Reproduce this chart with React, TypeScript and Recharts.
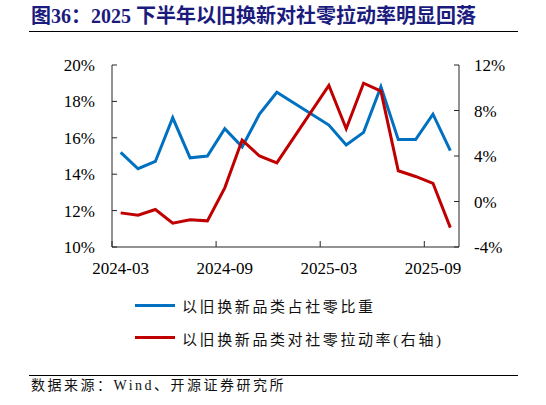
import React from 'react';
import { ComposedChart, Line, XAxis, YAxis } from 'recharts';

const months = [
  '2024-03', '2024-04', '2024-05', '2024-06', '2024-07', '2024-08', '2024-09',
  '2024-10', '2024-11', '2024-12', '2025-01', '2025-02', '2025-03', '2025-04',
  '2025-05', '2025-06', '2025-07', '2025-08', '2025-09', '2025-10',
];
// 以旧换新品类占社零比重 (%), left axis
const shareOfRetail: (number | null)[] = [
  15.2, 14.3, 14.7, 17.1, 14.9, 15.0, 16.5, 15.5, 17.3, 18.5,
  null, null, 16.7, 15.6, 16.3, 18.8, 15.9, 15.9, 17.3, 15.3,
];
// 以旧换新品类对社零拉动率 (%), right axis
const pullOnRetail: (number | null)[] = [
  -1.0, -1.2, -0.7, -1.9, -1.6, -1.7, 1.2, 5.4, 4.0, 3.4,
  null, null, 10.2, 6.4, 10.4, 9.7, 2.7, 2.2, 1.6, -2.3,
];
const leftTicks = [10, 12, 14, 16, 18, 20];
const rightTicks = [-4, 0, 4, 8, 12];
const seriesNames = ['以旧换新品类占社零比重', '以旧换新品类对社零拉动率(右轴)'];
const titleText = '图36：2025 下半年以旧换新对社零拉动率明显回落';
const sourceText = '数据来源：Wind、开源证券研究所';

const data = months.map((m, i) => ({ month: m, share: shareOfRetail[i], pull: pullOnRetail[i] }));

const BLUE = '#0070C0';
const RED = '#C00000';
const AXIS = '#262626';
const SERIF = "'Liberation Serif', 'Times New Roman', serif";
const CJK = "'Liberation Serif', 'Noto Sans CJK SC', sans-serif";
const X_TICK_MARGIN = 15;

const XTick = (props: any) => {
  const { x, y, payload } = props;
  const off = payload && typeof payload.offset === 'number' ? payload.offset : 8.7;
  const axisY = y - X_TICK_MARGIN;
  return (
    <g>
      <line x1={x - off} x2={x - off} y1={axisY - 6} y2={axisY} stroke={AXIS} strokeWidth={1} />
      <text x={x} y={y} dy="0.71em" textAnchor="middle" fontFamily={SERIF} fontSize={17} fill="#000">
        {payload.value}
      </text>
    </g>
  );
};

const pct = (v: number) => `${v}%`;

export default function App() {
  return (
    <div style={{ position: 'absolute', left: 0, top: 0, width: 546, height: 405, background: '#fff' }}>
      <div
        style={{
          position: 'absolute', left: 31, top: 5, fontFamily: CJK, fontWeight: 'bold',
          fontSize: 20, lineHeight: '22px', color: '#1B1B7E', whiteSpace: 'nowrap',
        }}
      >
        {titleText}
      </div>
      <div style={{ position: 'absolute', left: 29, top: 31, width: 489, height: 1, background: '#000' }} />
      <div style={{ position: 'absolute', left: 0, top: 0 }}>
        <ComposedChart width={546} height={290} data={data} margin={{ top: 65, right: 0, bottom: 13, left: 0 }}>
          <XAxis
            dataKey="month"
            type="category"
            scale="band"
            interval={5}
            height={30}
            tickLine={false}
            tickSize={0}
            tickMargin={X_TICK_MARGIN}
            axisLine={{ stroke: AXIS }}
            tick={<XTick />}
          />
          <YAxis
            yAxisId="left"
            orientation="left"
            width={112}
            domain={[10, 20]}
            ticks={leftTicks}
            tickFormatter={pct}
            tickSize={-5}
            tickMargin={22}
            axisLine={{ stroke: AXIS }}
            tickLine={{ stroke: AXIS }}
            tick={{ fontFamily: SERIF, fontSize: 17, fill: '#000' }}
            allowDataOverflow
          />
          <YAxis
            yAxisId="right"
            orientation="right"
            width={87}
            domain={[-4, 12]}
            ticks={rightTicks}
            tickFormatter={pct}
            tickSize={-5}
            tickMargin={20}
            axisLine={{ stroke: AXIS }}
            tickLine={{ stroke: AXIS }}
            tick={{ fontFamily: SERIF, fontSize: 17, fill: '#000' }}
            allowDataOverflow
          />
          <Line
            yAxisId="left"
            type="linear"
            dataKey="share"
            name={seriesNames[0]}
            stroke={BLUE}
            strokeWidth={3}
            dot={false}
            activeDot={false}
            connectNulls
            isAnimationActive={false}
          />
          <Line
            yAxisId="right"
            type="linear"
            dataKey="pull"
            name={seriesNames[1]}
            stroke={RED}
            strokeWidth={3}
            dot={false}
            activeDot={false}
            connectNulls
            isAnimationActive={false}
          />
        </ComposedChart>
      </div>
      {[BLUE, RED].map((c, i) => (
        <div key={i}>
          <div style={{ position: 'absolute', left: 135, top: 305 + i * 32.7 - 1.5, width: 40, height: 3, background: c }} />
          <div
            style={{
              position: 'absolute', left: 182, top: 296 + i * 32.7, fontFamily: CJK, fontSize: 15,
              lineHeight: '22px', letterSpacing: 2.6, color: '#111', whiteSpace: 'nowrap',
            }}
          >
            {seriesNames[i]}
          </div>
        </div>
      ))}
      <div style={{ position: 'absolute', left: 29, top: 375, width: 489, height: 1, background: '#000' }} />
      <div
        style={{
          position: 'absolute', left: 31, top: 376, fontFamily: CJK, fontSize: 14, lineHeight: '20px',
          letterSpacing: 2.5, color: '#111', whiteSpace: 'nowrap',
        }}
      >
        {sourceText}
      </div>
    </div>
  );
}
